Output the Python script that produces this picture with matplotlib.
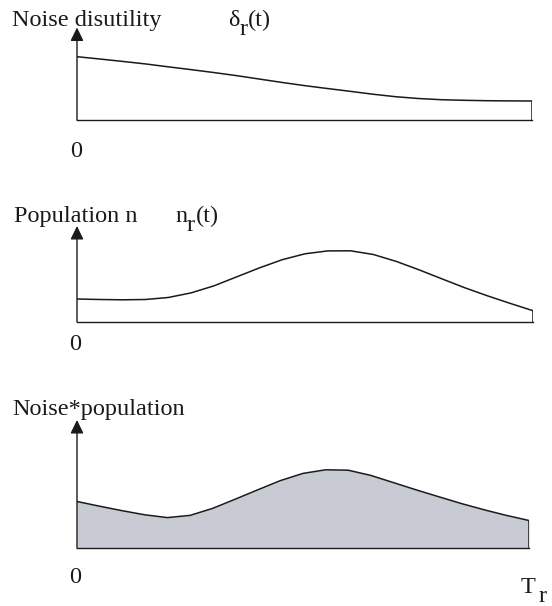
import matplotlib.pyplot as plt
import numpy as np

plt.rcParams['font.family'] = ['Liberation Serif', 'DejaVu Serif']

# time grid (0 .. T_r), same for all three panels
t = np.arange(0, 10.5, 0.5)

# noise disutility delta_r(t)
noise = [63.3, 61.0, 58.6, 56.1, 53.2, 50.4, 47.5, 44.4, 41.0, 37.6, 34.4,
         31.5, 28.7, 25.8, 23.3, 21.5, 20.3, 19.7, 19.3, 19.1, 19.0]
# population n_r(t)
population = [22.7, 22.2, 21.9, 22.2, 24.2, 28.8, 35.8, 44.8, 53.8, 62.0, 67.9,
              70.8, 70.9, 67.2, 60.3, 51.9, 42.9, 34.0, 25.9, 18.3, 11.0]
# noise * population
product = [46.5, 41.8, 37.3, 33.2, 30.4, 32.6, 39.6, 48.8, 58.2, 67.4, 74.6,
           78.2, 77.8, 72.6, 65.4, 58.2, 51.3, 44.5, 38.3, 32.6, 27.5]

W, H = 552, 606
fig = plt.figure(figsize=(W / 100, H / 100), dpi=100)
ink = '#1a1a1a'


def panel(x0, x1, base, tip):
    ax = fig.add_axes([x0 / W, (H - base) / H, (x1 - x0) / W, (base - tip) / H])
    ax.set_xlim(t[0], t[-1])
    ax.set_ylim(0, base - tip)
    for s in ax.spines.values():
        s.set_visible(False)
    ax.set_xticks([])
    ax.set_yticks([])
    ax.patch.set_alpha(0)
    ax.axhline(0, color=ink, lw=1.0, clip_on=False)
    ax.annotate('', xy=(0, 1), xytext=(0, 0), xycoords='axes fraction',
                arrowprops=dict(arrowstyle='-|>,head_length=0.45,head_width=0.22',
                                color=ink, lw=1.0, mutation_scale=18,
                                shrinkA=0, shrinkB=0))
    return ax


def label(x, y, s, size=17.5):
    fig.text(x / W, 1 - y / H, s, fontsize=size, ha='left', va='baseline', color=ink)


# panel 1: noise disutility
ax1 = panel(77, 532, 120, 27.5)
ax1.plot(t, noise, color=ink, lw=1.1)
ax1.vlines(t[-1], 0, noise[-1], color=ink, lw=1.1)
label(12, 26, 'Noise disutility')
label(228, 26, 'δ')
label(240, 35, 'r')
label(248, 26, '(t)')
label(70, 157, '0')

# panel 2: population
ax2 = panel(77, 533, 321.7, 226)
ax2.plot(t, population, color=ink, lw=1.1)
ax2.vlines(t[-1], 0, population[-1], color=ink, lw=1.1)
label(14, 221.7, 'Population n')
label(175, 221.7, 'n')
label(187, 231, 'r')
label(196, 221.7, '(t)')
label(69, 350, '0')

# panel 3: noise * population
ax3 = panel(77, 529, 548, 420)
ax3.fill_between(t, product, color='#c8cbd3', lw=0)
ax3.plot(t, product, color=ink, lw=1.1)
ax3.vlines(t[-1], 0, product[-1], color=ink, lw=1.1)
label(12, 415, 'Noise*population')
label(69, 583, '0')
label(521, 593, 'T')
label(539, 602, 'r')

fig.savefig('out.png', dpi=100)
